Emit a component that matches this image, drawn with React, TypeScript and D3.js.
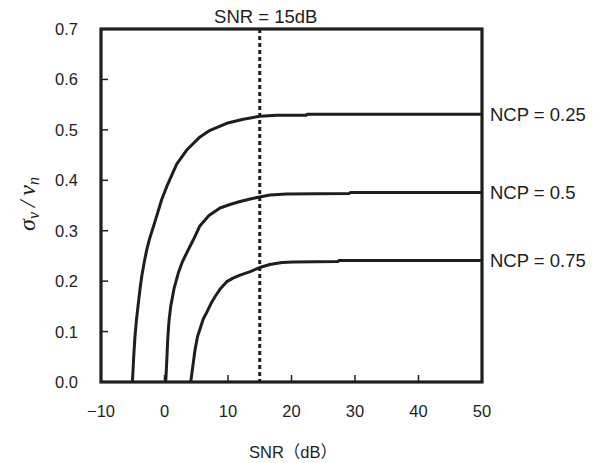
import React from "react";
import * as d3 from "d3";

const xTicks = [-10, 0, 10, 20, 30, 40, 50];
const yTicks = [0, 0.1, 0.2, 0.3, 0.4, 0.5, 0.6, 0.7];
const markerSNR = 15;

const ncpLabels = ["NCP = 0.25", "NCP = 0.5", "NCP = 0.75"];

const snr025 = [-5.05, -4.85, -4.65, -4.4, -4.12, -3.85, -3.59, -3.2, -2.8, -2.4, -1.5, -0.44, 0.5, 1.92, 3.5, 5.59, 7.17, 9.8, 12.4, 15, 17.7, 22.3, 22.5, 50];
const val025 = [0, 0.05, 0.09, 0.125, 0.156, 0.185, 0.209, 0.237, 0.262, 0.282, 0.318, 0.362, 0.392, 0.432, 0.46, 0.486, 0.499, 0.513, 0.521, 0.527, 0.529, 0.529, 0.531, 0.531];

const snr050 = [0.19, 0.35, 0.5, 0.7, 0.98, 1.5, 2.17, 2.8, 3.5, 4.54, 5.59, 7, 8.74, 10.3, 11.9, 13.5, 15, 16.6, 19.2, 29.1, 29.3, 50];
const val050 = [0, 0.04, 0.083, 0.12, 0.15, 0.185, 0.216, 0.238, 0.256, 0.282, 0.31, 0.33, 0.345, 0.352, 0.358, 0.363, 0.367, 0.371, 0.373, 0.374, 0.376, 0.376];

const snr075 = [4.13, 4.5, 4.8, 5.2, 5.59, 6.1, 6.65, 7.3, 7.95, 8.8, 9.8, 10.8, 11.9, 13.5, 15, 16.6, 18.5, 20.3, 27.3, 27.5, 50];
const val075 = [0, 0.035, 0.063, 0.09, 0.105, 0.125, 0.138, 0.155, 0.169, 0.185, 0.199, 0.206, 0.212, 0.219, 0.227, 0.233, 0.237, 0.238, 0.239, 0.241, 0.241];

const seriesX = [snr025, snr050, snr075];
const seriesY = [val025, val050, val075];

const W = 600;
const H = 463;
const L = 101, R = 482, T = 29, B = 382;
const ink = "#1e1e1e";
const sans = "'Liberation Sans', Arial, 'Noto Sans CJK JP', sans-serif";

export default function App() {
  const x = d3.scaleLinear().domain([-10, 50]).range([L, R]);
  const y = d3.scaleLinear().domain([0, 0.7]).range([B, T]);
  const line = d3
    .line<[number, number]>()
    .x((d) => x(d[0]))
    .y((d) => y(d[1]));

  return (
    <svg
      width={W}
      height={H}
      style={{ position: "absolute", left: 0, top: 0, background: "#fff" }}
      fontFamily={sans}
    >
      <rect x={0} y={0} width={W} height={H} fill="#fff" />
      {/* curves */}
      {seriesX.map((xs, i) => (
        <path
          key={i}
          d={line(xs.map((v, j) => [v, seriesY[i][j]] as [number, number])) || ""}
          fill="none"
          stroke={ink}
          strokeWidth={3}
          strokeLinejoin="round"
        />
      ))}
      {/* dotted marker */}
      <line
        x1={x(markerSNR)}
        x2={x(markerSNR)}
        y1={T}
        y2={B}
        stroke={ink}
        strokeWidth={3}
        strokeDasharray="4 3"
      />
      <text x={x(markerSNR) + 6} y={23} fontSize={18.5} textAnchor="middle" fill={ink}>
        SNR = 15dB
      </text>
      {/* ticks */}
      {yTicks.map((t) => (
        <g key={"y" + t}>
          <line x1={L} x2={L + 7} y1={y(t)} y2={y(t)} stroke={ink} strokeWidth={1.5} />
          <text x={78} y={y(t) + 6} fontSize={16.5} textAnchor="end" fill={ink}>
            {t.toFixed(1)}
          </text>
        </g>
      ))}
      {xTicks.map((t) => (
        <g key={"x" + t}>
          <line x1={x(t)} x2={x(t)} y1={B} y2={B - 7} stroke={ink} strokeWidth={1.5} />
          <text x={x(t)} y={417} fontSize={16.5} textAnchor="middle" fill={ink}>
            {t < 0 ? "\u2212" + Math.abs(t) : String(t)}
          </text>
        </g>
      ))}
      {/* frame */}
      <rect x={L} y={T} width={R - L} height={B - T} fill="none" stroke={ink} strokeWidth={3.2} />
      {/* NCP labels */}
      {ncpLabels.map((lab, i) => {
        const ys = seriesY[i];
        return (
          <text key={lab} x={490} y={y(ys[ys.length - 1]) + 7} fontSize={18.5} fill={ink}>
            {lab}
          </text>
        );
      })}
      {/* x label */}
      <text x={293} y={458} fontSize={16.5} textAnchor="middle" fill={ink}>
        SNR（dB）
      </text>
      {/* y label */}
      <text
        transform="translate(35,204) rotate(-90)"
        textAnchor="middle"
        fontFamily="'Liberation Serif', 'DejaVu Serif', serif"
        fontStyle="italic"
        fontSize={24}
        fill={ink}
      >
        σ<tspan fontSize={16} dy={4}>v</tspan>
        <tspan dy={-4}>{"\u2009/\u2009"}</tspan>ν<tspan fontSize={16} dy={4}>n</tspan>
      </text>
    </svg>
  );
}
